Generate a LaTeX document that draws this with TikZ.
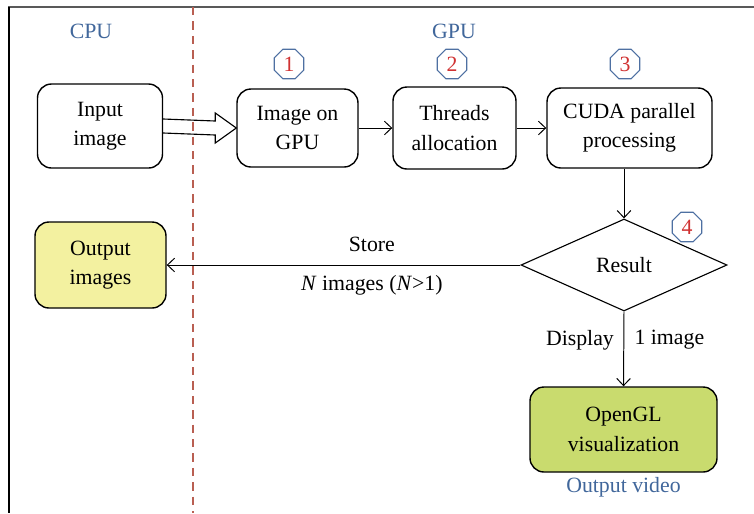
\documentclass[tikz,border=0pt]{standalone}
\usepackage{fontspec}
\setmainfont{Liberation Serif}
\usetikzlibrary{shapes.geometric,positioning,calc,arrows.meta}
\definecolor{zoneblue}{RGB}{65,103,155}
\definecolor{octblue}{RGB}{78,112,162}
\definecolor{numred}{RGB}{208,50,50}
\definecolor{splitred}{RGB}{185,95,82}
\definecolor{storeyellow}{RGB}{243,241,160}
\definecolor{glgreen}{RGB}{201,219,110}

\tikzset{
  stepbox/.style={draw, line width=1pt, rounded corners=3.5mm, align=center, inner sep=2pt},
  decision/.style={draw, diamond, line width=0.8pt, inner sep=0pt},
  stepnum/.style={draw=octblue, regular polygon, regular polygon sides=8, minimum size=8mm,
                  inner sep=0pt, line width=0.8pt, text=numred},
  zone/.style={text=zoneblue},
  flow/.style={-{Straight Barb[length=1.8mm, width=3.4mm]}, line width=0.7pt},
}

\begin{document}
\begin{tikzpicture}[x=0.25mm, y=-0.25mm, font=\fontsize{15.5}{21}\selectfont]
    \useasboundingbox (0,0) rectangle (754,513);

    % --- frame and CPU / GPU split ---
    \draw[line width=1.4pt, black!65] (8,7) -- (754,7);
    \draw[line width=1pt] (9,7) -- (9,513);
    \draw[splitred, line width=0.9pt, dash pattern=on 2.1mm off 1.5mm] (193,7) -- (193,513);
    \node[zone] (cpu) at (91,31) {CPU};
    \node[zone] (gpu) at (454,31) {GPU};

    % --- processing chain ---
    \node[stepbox, minimum width=31.25mm, minimum height=21mm] (input) at (100,126) {Input\\image};
    \node[stepbox, minimum width=30.25mm, minimum height=19.5mm] (gpuimg) at (297.5,128) {Image on\\GPU};
    \node[stepbox, minimum width=30.75mm, minimum height=20.5mm] (threads) at (454.5,128) {Threads\\allocation};
    \node[stepbox, minimum width=41.25mm, minimum height=20mm] (cuda) at (629.5,128) {CUDA parallel\\processing};
    \node[decision, minimum width=51.5mm, minimum height=23mm] (result) at (624,265) {Result};
    \node[stepbox, fill=storeyellow, minimum width=32.75mm, minimum height=21.5mm] (outimg) at (100.5,265) {Output\\images};
    \node[stepbox, fill=glgreen, minimum width=46.75mm, minimum height=21.25mm] (opengl) at (623.5,429.5) {OpenGL\\visualization};
    \node[zone, below=0pt of opengl] (video) {Output video};

    % step numbers
    \node[stepnum] (n1) at (289,64) {1};
    \node[stepnum] (n2) at (452,64) {2};
    \node[stepnum] (n3) at (625,64) {3};
    \node[stepnum] (n4) at (687,227) {4};

    % hollow transfer arrow CPU -> GPU
    \draw[line width=0.8pt] ($(input.east)+(0,-7)$) -- ($(gpuimg.west)+(-21,-7)$)
        -- ($(gpuimg.west)+(-21,-15)$) -- (gpuimg.west) -- ($(gpuimg.west)+(-21,15)$)
        -- ($(gpuimg.west)+(-21,7)$) -- ($(input.east)+(0,7)$);

    % connectors
    \draw[flow] (gpuimg.east) -- (threads.west);
    \draw[flow] (threads.east) -- (cuda.west);
    \draw[flow] (result.north |- cuda.south) -- (result.north);
    \draw[flow] (result.west) -- (outimg.east)
        node[pos=0.42, above=2mm] (store) {Store}
        node[pos=0.42, below=1.2mm] (many) {\textit{N} images (\textit{N}>1)};
    \draw[flow] (result.south) -- (opengl.north)
        node[pos=0.38, left=1.2mm] (show) {Display}
        node[pos=0.38, right=1.4mm] (one) {1 image};
\end{tikzpicture}
\end{document}
